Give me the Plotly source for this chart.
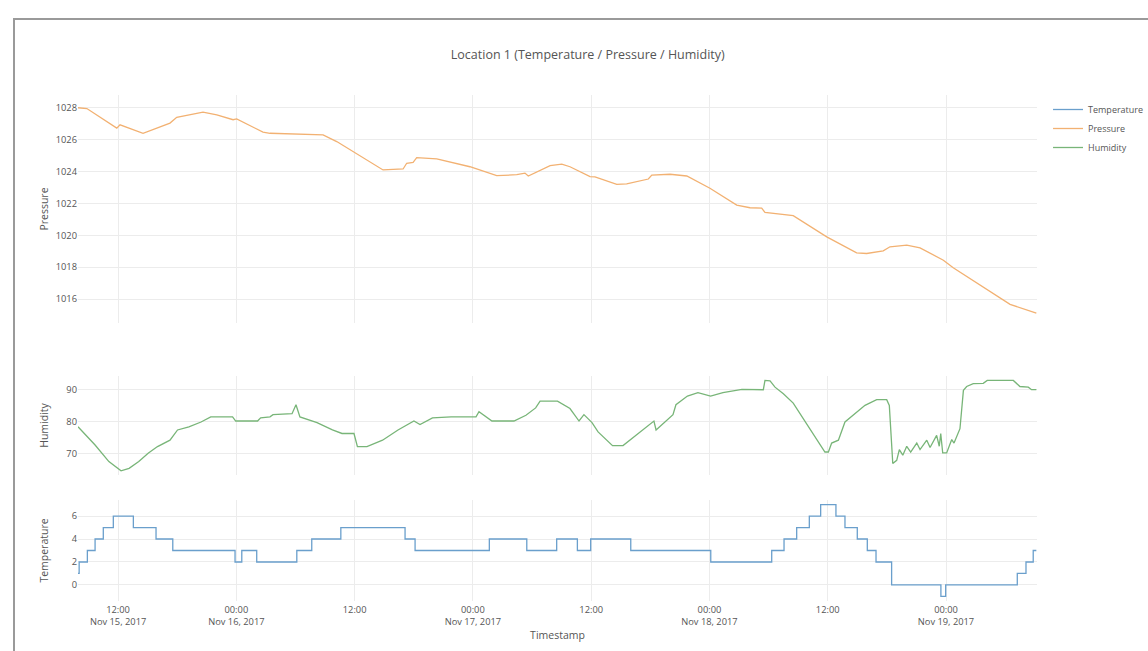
import plotly.graph_objects as go

# ---------------- data ----------------
pressure_times = [
    "2017-11-15 07:56", "2017-11-15 08:50", "2017-11-15 11:52", "2017-11-15 12:12",
    "2017-11-15 14:32", "2017-11-15 17:16", "2017-11-15 17:57", "2017-11-15 20:37",
    "2017-11-15 22:01", "2017-11-15 23:40", "2017-11-16 00:02", "2017-11-16 02:42",
    "2017-11-16 03:25", "2017-11-16 08:48", "2017-11-16 10:11", "2017-11-16 14:53",
    "2017-11-16 16:55", "2017-11-16 17:17", "2017-11-16 17:56", "2017-11-16 18:18",
    "2017-11-16 20:20", "2017-11-16 23:42", "2017-11-17 02:25", "2017-11-17 04:27",
    "2017-11-17 05:17", "2017-11-17 05:37", "2017-11-17 07:50", "2017-11-17 09:01",
    "2017-11-17 09:51", "2017-11-17 11:53", "2017-11-17 12:23", "2017-11-17 14:36",
    "2017-11-17 15:36", "2017-11-17 17:48", "2017-11-17 18:09", "2017-11-17 20:00",
    "2017-11-17 21:42", "2017-11-18 00:03", "2017-11-18 02:46", "2017-11-18 04:07",
    "2017-11-18 05:18", "2017-11-18 05:38", "2017-11-18 08:30", "2017-11-18 11:54",
    "2017-11-18 14:56", "2017-11-18 15:57", "2017-11-18 17:38", "2017-11-18 18:19",
    "2017-11-18 20:01", "2017-11-18 21:22", "2017-11-18 23:44", "2017-11-19 00:44",
    "2017-11-19 06:30", "2017-11-19 07:51", "2017-11-19 09:10",
]
pressure_values = [
    1028.0, 1027.95, 1026.72, 1026.93,
    1026.4, 1027.04, 1027.4, 1027.73,
    1027.56, 1027.25, 1027.3, 1026.47,
    1026.4, 1026.3, 1025.88, 1024.1,
    1024.16, 1024.52, 1024.58, 1024.87,
    1024.8, 1024.3, 1023.74, 1023.8,
    1023.9, 1023.72, 1024.37, 1024.46,
    1024.3, 1023.68, 1023.66, 1023.2,
    1023.22, 1023.53, 1023.78, 1023.83,
    1023.72, 1022.95, 1021.9, 1021.73,
    1021.7, 1021.44, 1021.23, 1019.9,
    1018.9, 1018.86, 1019.03, 1019.28,
    1019.38, 1019.21, 1018.44, 1017.96,
    1015.67, 1015.4, 1015.12,
]

humidity_times = [
    "2017-11-15 07:56", "2017-11-15 09:40", "2017-11-15 11:04", "2017-11-15 12:18",
    "2017-11-15 13:07", "2017-11-15 14:06", "2017-11-15 15:03", "2017-11-15 16:00",
    "2017-11-15 17:16", "2017-11-15 18:02", "2017-11-15 19:11", "2017-11-15 20:25",
    "2017-11-15 21:24", "2017-11-15 23:37", "2017-11-15 23:56", "2017-11-16 02:09",
    "2017-11-16 02:28", "2017-11-16 03:25", "2017-11-16 03:43", "2017-11-16 05:39",
    "2017-11-16 06:03", "2017-11-16 06:27", "2017-11-16 08:11", "2017-11-16 09:45",
    "2017-11-16 10:43", "2017-11-16 11:56", "2017-11-16 12:17", "2017-11-16 13:15",
    "2017-11-16 14:50", "2017-11-16 16:24", "2017-11-16 18:01", "2017-11-16 18:38",
    "2017-11-16 19:54", "2017-11-16 21:47", "2017-11-17 00:19", "2017-11-17 00:37",
    "2017-11-17 01:56", "2017-11-17 04:10", "2017-11-17 05:23", "2017-11-17 06:22",
    "2017-11-17 06:49", "2017-11-17 08:35", "2017-11-17 09:51", "2017-11-17 10:46",
    "2017-11-17 11:16", "2017-11-17 12:05", "2017-11-17 12:42", "2017-11-17 14:10",
    "2017-11-17 15:14", "2017-11-17 18:22", "2017-11-17 18:35", "2017-11-17 20:18",
    "2017-11-17 20:36", "2017-11-17 21:46", "2017-11-17 22:50", "2017-11-18 00:07",
    "2017-11-18 01:22", "2017-11-18 03:18", "2017-11-18 05:28", "2017-11-18 05:38",
    "2017-11-18 06:09", "2017-11-18 06:39", "2017-11-18 07:30", "2017-11-18 08:30",
    "2017-11-18 11:43", "2017-11-18 12:04", "2017-11-18 12:24", "2017-11-18 13:05",
    "2017-11-18 13:45", "2017-11-18 14:36", "2017-11-18 15:47", "2017-11-18 16:58",
    "2017-11-18 17:59", "2017-11-18 18:15", "2017-11-18 18:36", "2017-11-18 19:00",
    "2017-11-18 19:16", "2017-11-18 19:37", "2017-11-18 20:01", "2017-11-18 20:25",
    "2017-11-18 21:02", "2017-11-18 21:22", "2017-11-18 22:03", "2017-11-18 22:23",
    "2017-11-18 23:03", "2017-11-18 23:19", "2017-11-18 23:28", "2017-11-18 23:40",
    "2017-11-19 00:04", "2017-11-19 00:35", "2017-11-19 00:49", "2017-11-19 01:25",
    "2017-11-19 01:46", "2017-11-19 02:06", "2017-11-19 02:46", "2017-11-19 03:47",
    "2017-11-19 04:11", "2017-11-19 06:50", "2017-11-19 07:30", "2017-11-19 08:21",
    "2017-11-19 08:41", "2017-11-19 09:10",
]
humidity_values = [
    78.4, 72.7, 67.5, 64.6,
    65.4, 67.5, 70.1, 72.2,
    74.2, 77.4, 78.4, 79.9,
    81.5, 81.5, 80.2, 80.2,
    81.2, 81.5, 82.2, 82.5,
    85.3, 81.5, 79.7, 77.4,
    76.3, 76.3, 72.2, 72.2,
    74.2, 77.4, 80.2, 79.1,
    81.2, 81.5, 81.5, 83.1,
    80.2, 80.2, 82.0, 84.3,
    86.4, 86.4, 84.1, 80.2,
    82.2, 79.7, 76.8, 72.5,
    72.5, 80.2, 77.4, 82.2,
    85.3, 88.0, 89.1, 88.0,
    89.1, 90.1, 90.0, 92.9,
    92.8, 90.8, 88.75, 85.8,
    70.5, 70.5, 73.3, 74.2,
    79.9, 82.0, 85.1, 86.9,
    86.9, 85.1, 66.9, 67.9,
    71.25, 69.5, 72.3, 70.5,
    73.3, 71.25, 74.2, 71.9,
    75.7, 72.3, 76.25, 70.2,
    70.2, 74.4, 73.3, 77.8,
    89.8, 91.0, 91.9, 92.0,
    92.9, 92.9, 91.0, 90.8,
    90.0, 90.0,
]

temperature_times = [
    "2017-11-15 07:56", "2017-11-15 08:03", "2017-11-15 08:53", "2017-11-15 09:40",
    "2017-11-15 10:30", "2017-11-15 11:31", "2017-11-15 13:33", "2017-11-15 15:51",
    "2017-11-15 17:33", "2017-11-15 23:52", "2017-11-16 00:33", "2017-11-16 02:04",
    "2017-11-16 06:08", "2017-11-16 07:39", "2017-11-16 10:36", "2017-11-16 17:07",
    "2017-11-16 18:08", "2017-11-17 01:40", "2017-11-17 05:28", "2017-11-17 08:30",
    "2017-11-17 10:36", "2017-11-17 11:57", "2017-11-17 16:01", "2017-11-18 00:08",
    "2017-11-18 06:19", "2017-11-18 07:34", "2017-11-18 08:51", "2017-11-18 10:08",
    "2017-11-18 11:17", "2017-11-18 12:50", "2017-11-18 13:45", "2017-11-18 15:00",
    "2017-11-18 16:01", "2017-11-18 16:54", "2017-11-18 18:29", "2017-11-18 23:29",
    "2017-11-18 23:58", "2017-11-19 07:14", "2017-11-19 08:07", "2017-11-19 08:51",
    "2017-11-19 09:10",
]
temperature_values = [
    1, 2, 3, 4,
    5, 6, 5, 4,
    3, 2, 3, 2,
    3, 4, 5, 4,
    3, 4, 3, 4,
    3, 4, 3, 2,
    3, 4, 5, 6,
    7, 6, 5, 4,
    3, 2, 0, -1,
    0, 1, 2, 3,
    3,
]

x_range = ["2017-11-15 07:56", "2017-11-19 09:14"]

# ---------------- styling ----------------
FONT = "Open Sans, Noto Sans, sans-serif"
GRID = "#ececec"
TICK_FONT = dict(family=FONT, size=9.3, color="#555")
TITLE_FONT = dict(family=FONT, size=10.5, color="#555")

fig = go.Figure()
fig.add_trace(go.Scatter(
    x=temperature_times, y=temperature_values, name="Temperature", mode="lines",
    line=dict(color="#6a9fcc", width=1.3, shape="hv"), xaxis="x", yaxis="y"))
fig.add_trace(go.Scatter(
    x=pressure_times, y=pressure_values, name="Pressure", mode="lines",
    line=dict(color="#f2b172", width=1.3), xaxis="x3", yaxis="y3"))
fig.add_trace(go.Scatter(
    x=humidity_times, y=humidity_values, name="Humidity", mode="lines",
    line=dict(color="#78b578", width=1.3), xaxis="x2", yaxis="y2"))

xcommon = dict(range=x_range, type="date", dtick=12 * 3600 * 1000,
               tick0="2017-11-15 00:00", showgrid=True, gridcolor=GRID,
               zeroline=False, showline=False, tickfont=TICK_FONT)

ycommon = dict(showgrid=True, gridcolor=GRID, zeroline=False, showline=False,
               tickfont=TICK_FONT, automargin=True)

fig.update_layout(
    width=1148, height=651,
    margin=dict(l=78, r=111, t=95, b=50, autoexpand=False),
    paper_bgcolor="white", plot_bgcolor="white",
    font=dict(family=FONT, color="#555"),
    title=dict(text="Location 1 (Temperature / Pressure / Humidity)",
               x=0.512, xref="container", xanchor="center",
               y=1 - 55 / 651, yref="container", yanchor="middle",
               font=dict(family=FONT, size=12.5, color="#555")),
    xaxis=dict(**xcommon, anchor="y", automargin=True, ticklabelstandoff=2,
               title=dict(text="Timestamp", standoff=4,
                          font=dict(family=FONT, size=10.5, color="#555"))),
    xaxis2=dict(**xcommon, anchor="y2", matches="x", showticklabels=False),
    xaxis3=dict(**xcommon, anchor="y3", matches="x", showticklabels=False),
    yaxis=dict(**ycommon, domain=[0, 0.1996], range=[-1.4, 7.4], dtick=2,
               title=dict(text="Temperature", font=TITLE_FONT, standoff=20)),
    yaxis2=dict(**ycommon, domain=[0.249, 0.4447], range=[63.3, 94.3], dtick=10,
                title=dict(text="Humidity", font=TITLE_FONT, standoff=15)),
    yaxis3=dict(**ycommon, domain=[0.5494, 1], range=[1014.5, 1028.8], dtick=2,
                title=dict(text="Pressure", font=TITLE_FONT, standoff=5)),
    legend=dict(x=1.0115, y=1.0, xanchor="left", yanchor="top",
                font=dict(family=FONT, size=9, color="#555"),
                bgcolor="rgba(0,0,0,0)"),
    showlegend=True,
    shapes=[dict(type="rect", xref="paper", yref="paper",
                 x0=(14 - 78) / 959, x1=1.2, y0=-0.2, y1=(601 - 19) / 506,
                 line=dict(color="#9a9a9a", width=2), layer="below")],
)

fig.write_html(
    "out.html",
    config={"displayModeBar": False},
    post_script="document.body.style.margin='0';document.body.style.overflow='hidden';",
)
